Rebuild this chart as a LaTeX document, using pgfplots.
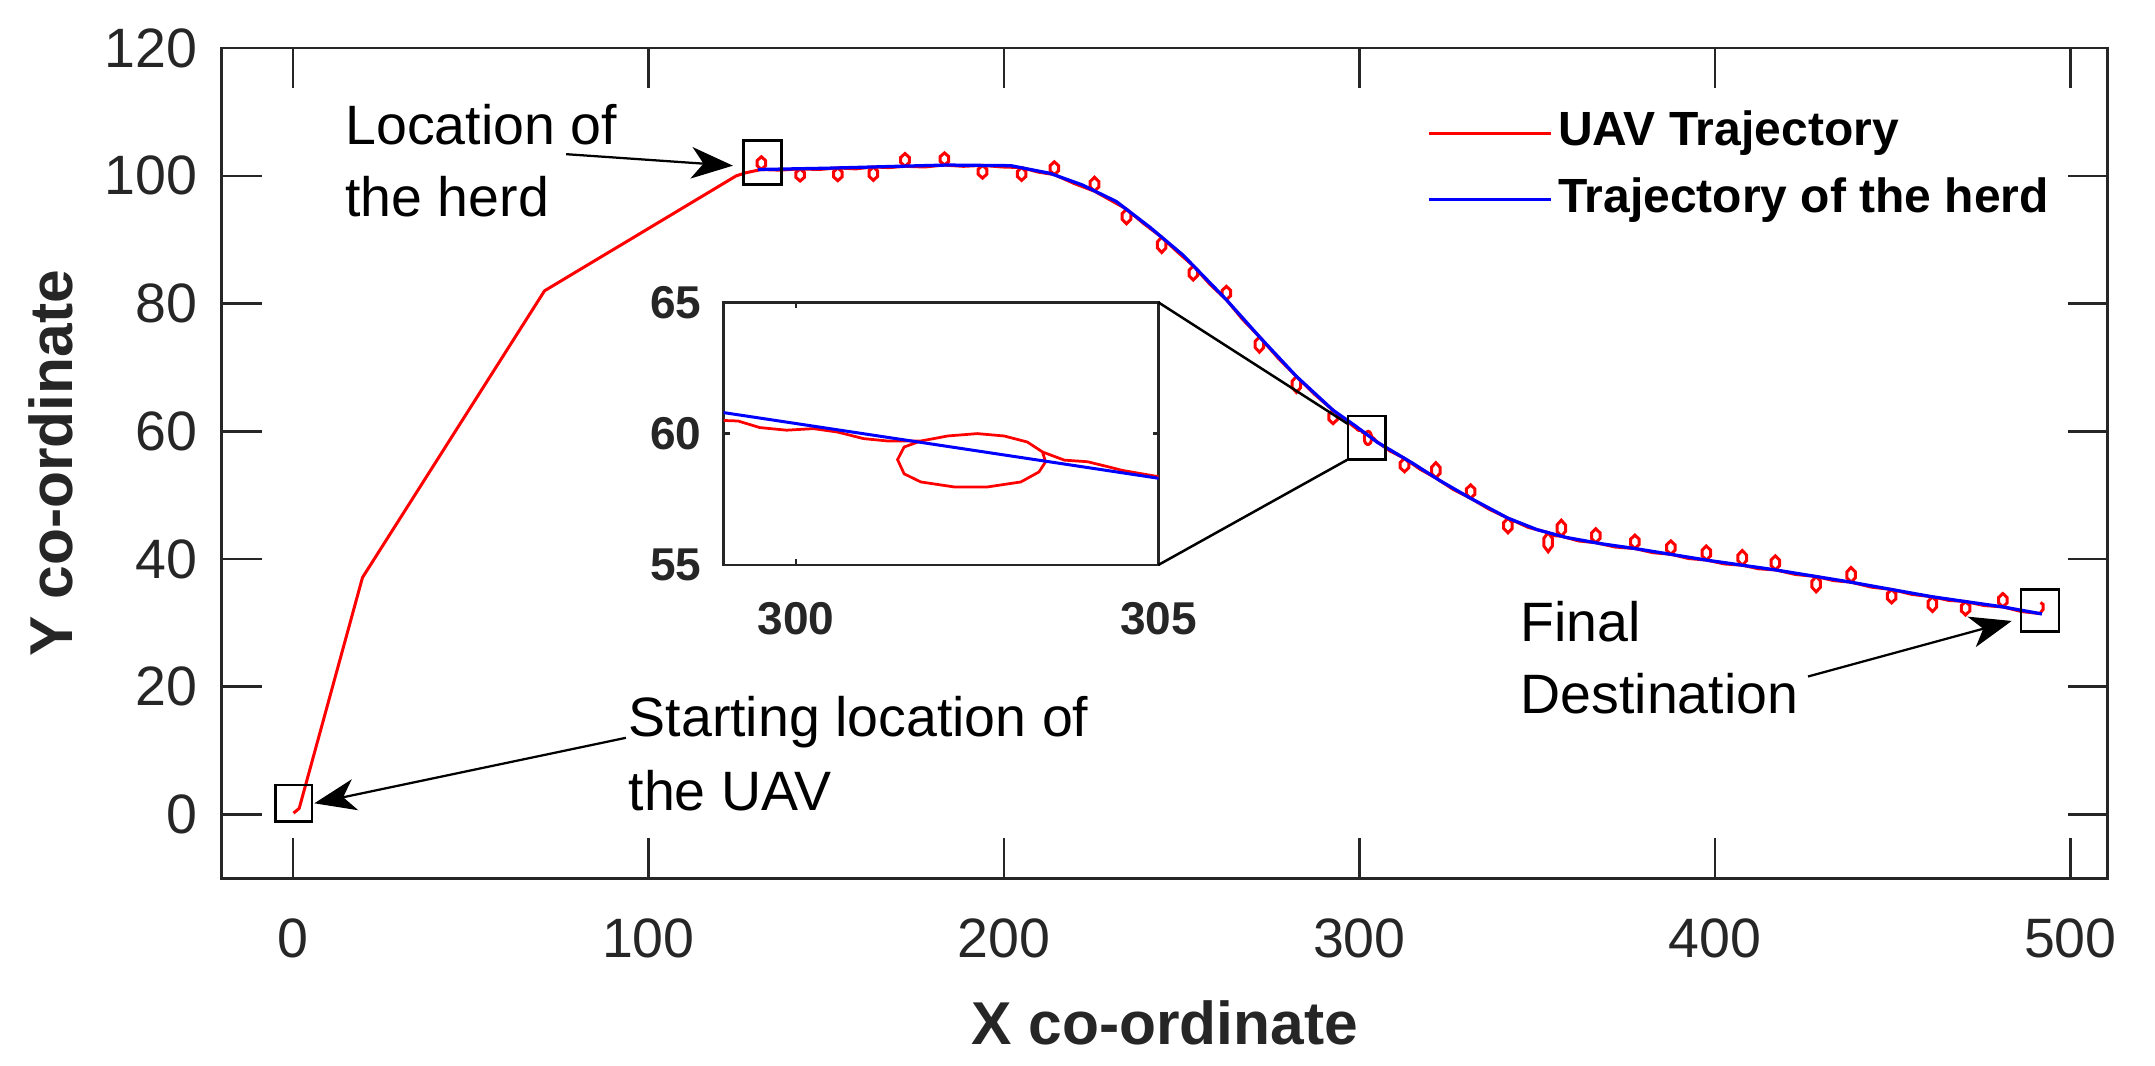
\documentclass[border=0pt]{standalone}
\usepackage{fontspec}
\setmainfont{Liberation Sans}
\usepackage{pgfplots}
\pgfplotsset{compat=1.18}
\usepackage{pgfplotstable}
\usetikzlibrary{arrows.meta}

\definecolor{axgray}{gray}{0.15}

% UAV path (red), with the small loops it makes around the herd
\pgfplotstableread{
x y
0.2 0.2
1.8 0.95
19.6 37.1
70.8 82.0
124.7 100.0
127.5 100.5
131.8 101.0
133.0 101.6
133.0 102.4
131.8 103.0
130.6 102.4
130.6 101.6
131.8 101.0
137.0 100.9
142.7 101.1
143.9 100.53
143.9 99.77
142.7 99.2
141.5 99.77
141.5 100.53
142.7 101.1
148.0 101.0
153.3 101.25
154.5 100.65
154.5 99.85
153.3 99.25
152.1 99.85
152.1 100.65
153.3 101.25
158.3 101.1
163.3 101.4
164.5 100.77
164.5 99.93
163.3 99.3
162.1 99.93
162.1 100.77
163.3 101.4
167.7 101.3
172.2 101.5
173.4 102.1
173.4 102.9
172.2 103.5
171.0 102.9
171.0 102.1
172.2 101.5
177.7 101.4
183.3 101.7
184.5 102.27
184.5 103.03
183.3 103.6
182.1 103.03
182.1 102.27
183.3 101.7
188.6 101.5
194.0 101.65
195.2 101.05
195.2 100.25
194.0 99.65
192.8 100.25
192.8 101.05
194.0 101.65
199.5 101.4
205.0 101.3
206.2 100.7
206.2 99.9
205.0 99.3
203.8 99.9
203.8 100.7
205.0 101.3
209.6 100.6
214.2 100.2
215.4 100.8
215.4 101.6
214.2 102.2
213.0 101.6
213.0 100.8
214.2 100.2
219.8 98.8
225.5 97.6
226.7 98.26
226.7 99.14
225.5 99.8
224.3 99.14
224.3 98.26
225.5 97.6
230.0 96.2
234.5 94.8
235.7 94.11
235.7 93.19
234.5 92.5
233.3 93.19
233.3 94.11
234.5 94.8
239.4 92.5
244.4 90.4
245.6 89.68
245.6 88.72
244.4 88.0
243.2 88.72
243.2 89.68
244.4 90.4
248.8 88.1
253.3 85.9
254.5 85.24
254.5 84.36
253.3 83.7
252.1 84.36
252.1 85.24
253.3 85.9
258.0 83.0
262.6 80.6
263.8 81.23
263.8 82.07
262.6 82.7
261.4 82.07
261.4 81.23
262.6 80.6
267.2 77.5
271.9 74.8
273.1 74.08
273.1 73.12
271.9 72.4
270.7 73.12
270.7 74.08
271.9 74.8
277.1 71.5
282.3 68.6
283.5 67.85
283.5 66.85
282.3 66.1
281.1 66.85
281.1 67.85
282.3 68.6
287.4 65.8
292.6 63.3
293.8 62.67
293.8 61.83
292.6 61.2
291.4 61.83
291.4 62.67
292.6 63.3
296.0 61.8
299.0 60.5
299.2 60.48
299.5 60.23
299.87 60.13
300.24 60.19
300.57 60.06
300.93 59.81
301.26 59.72
301.72 59.72
301.9 59.81
302.09 59.91
302.5 60.0
302.87 59.91
303.19 59.68
303.4 59.3
303.44 58.92
303.35 58.54
303.1 58.16
302.64 57.97
302.18 57.97
301.72 58.16
301.49 58.47
301.4 59.01
301.49 59.49
301.72 59.72
301.9 59.81
302.09 59.91
302.5 60.0
302.87 59.91
303.19 59.68
303.4 59.3
303.7 58.99
304.02 58.93
304.3 58.74
304.5 58.6
305.0 58.36
308.5 56.95
312.7 55.76
313.9 55.13
313.9 54.29
312.7 53.66
311.5 54.29
311.5 55.13
312.7 55.76
317.1 54.05
321.5 52.69
322.7 53.41
322.7 54.37
321.5 55.09
320.3 54.37
320.3 53.41
321.5 52.69
326.4 50.9
331.3 49.51
332.5 50.14
332.5 50.98
331.3 51.61
330.1 50.98
330.1 50.14
331.3 49.51
336.5 47.8
341.8 46.4
343.0 45.71
343.0 44.79
341.8 44.1
340.6 44.79
340.6 45.71
341.8 46.4
347.5 44.95
353.1 44.14
354.3 43.24
354.3 42.04
353.1 41.14
351.9 42.04
351.9 43.24
353.1 44.14
355.0 43.65
356.8 43.58
358.0 44.33
358.0 45.33
356.8 46.08
355.6 45.33
355.6 44.33
356.8 43.58
361.7 42.83
366.5 42.55
367.7 43.21
367.7 44.09
366.5 44.75
365.3 44.09
365.3 43.21
366.5 42.55
372.0 41.88
377.5 41.64
378.7 42.27
378.7 43.11
377.5 43.74
376.3 43.11
376.3 42.27
377.5 41.64
382.5 41.0
387.6 40.74
388.8 41.37
388.8 42.21
387.6 42.84
386.4 42.21
386.4 41.37
387.6 40.74
392.6 40.08
397.6 39.84
398.8 40.5
398.8 41.38
397.6 42.04
396.4 41.38
396.4 40.5
397.6 39.84
402.7 39.23
407.7 39.03
408.9 39.72
408.9 40.64
407.7 41.33
406.5 40.64
406.5 39.72
407.7 39.03
412.3 38.47
417.0 38.3
418.2 38.96
418.2 39.84
417.0 40.5
415.8 39.84
415.8 38.96
417.0 38.3
422.7 37.58
428.5 37.26
429.7 36.54
429.7 35.58
428.5 34.86
427.3 35.58
427.3 36.54
428.5 37.26
433.4 36.62
438.3 36.37
439.5 37.06
439.5 37.98
438.3 38.67
437.1 37.98
437.1 37.06
438.3 36.37
444.0 35.6
449.7 35.23
450.9 34.6
450.9 33.76
449.7 33.13
448.5 33.76
448.5 34.6
449.7 35.23
455.4 34.46
461.2 34.08
462.4 33.39
462.4 32.47
461.2 31.78
460.0 32.47
460.0 33.39
461.2 34.08
465.8 33.52
470.5 33.34
471.7 32.71
471.7 31.87
470.5 31.24
469.3 31.87
469.3 32.71
470.5 33.34
475.7 32.72
481.0 32.5
482.2 33.13
482.2 33.97
481.0 34.6
479.8 33.97
479.8 33.13
481.0 32.5
486.2 31.78
491.4 31.46
492.3 32.1
492.3 32.9
491.6 33.2
}\uavdata

% herd path (blue)
\pgfplotstableread{
x y
130.8 101.0
150 101.2
170 101.5
184 101.7
202 101.6
213 100.4
222 98.6
231.6 96.0
241 92.0
250.4 87.6
262.6 80.6
271.9 74.8
282.3 68.6
292.6 63.3
299 60.8
305 58.3
315 55.0
322.6 52.3
331 49.6
341.8 46.4
350 44.6
358 43.4
368 42.4
378 41.6
398 39.8
417 38.3
438 36.4
461 34.1
481 32.5
492 31.4
}\herddata

\begin{document}
\begin{tikzpicture}[
  annot/.style={font=\fontsize{11.1}{13}\selectfont, inner sep=0pt, anchor=base west},
  arr/.style={-{Stealth[length=8.3pt,width=6.3pt,inset=2.4pt]}, line width=0.45pt},
  zbox/.style={line width=0.55pt}]
\path[use as bounding box] (-44.34pt,-37.54pt) rectangle (386.66pt,175.66pt);

\begin{axis}[
  name=main, at={(0,0)}, anchor=south west,
  scale only axis, width=377.2pt, height=166.02pt,
  xmin=-20, xmax=510.5, ymin=-10, ymax=120,
  xtick={0,100,...,500}, ytick={0,20,...,120},
  tick align=inside, major tick length=8pt,
  axis line style={axgray, line width=0.5pt},
  tick style={axgray, line width=0.5pt},
  /pgf/number format/assume math mode=true,
  tick label style={font=\fontsize{11.1}{13}\selectfont, text=axgray},
  xticklabel style={yshift=-4.6pt},
  yticklabel style={xshift=-1.3pt},
  xlabel={X co-ordinate}, ylabel={Y co-ordinate},
  label style={font=\fontsize{12.1}{14}\selectfont\bfseries, text=axgray},
  xlabel style={at={(axis description cs:0.5,-0.1743)}, anchor=center},
  ylabel style={at={(axis description cs:-0.0907,0.5)}, anchor=center},
  legend cell align=left,
  legend style={draw=none, fill=none, inner sep=0pt, outer sep=0pt,
    at={(rel axis cs:0.639,0.932)}, anchor=north west, row sep=1.9pt,
    font=\fontsize{9.6}{11}\selectfont\bfseries,
    nodes={inner sep=1.2pt, text height=7pt, text depth=2pt}},
  legend image code/.code={\draw[#1] (0pt,0pt) -- (24.4pt,0pt);},
]
\addplot[red, line width=0.6pt] table[x=x,y=y] {\uavdata};
\addplot[blue, line width=0.65pt] table[x=x,y=y] {\herddata};
\legend{UAV Trajectory, Trajectory of the herd}

% marker boxes
\draw[zbox] (axis cs:-4.9,-1.15) rectangle (axis cs:5.4,4.6);
\draw[zbox] (axis cs:126.8,98.6) rectangle (axis cs:137.5,105.5);
\draw[zbox] (axis cs:296.8,55.6) rectangle (axis cs:307.3,62.4);
\draw[zbox] (axis cs:486.1,28.6) rectangle (axis cs:496.8,35.2);
\coordinate (ztop) at (axis cs:296.8,61.14);
\coordinate (zbot) at (axis cs:296.8,55.6);

% annotations
\draw[arr] (axis cs:76.9,103.4) -- (axis cs:123.8,101.6);
\draw[arr] (axis cs:93.7,12.0) -- (axis cs:6.05,1.74);
\draw[arr] (axis cs:426.2,21.6) -- (axis cs:483.5,30.3);
\node[annot] at (axis cs:14.5,104.84) {Location of};
\node[annot] at (axis cs:14.5,93.6) {the herd};
\node[annot] at (axis cs:94.2,12.17) {Starting location of};
\node[annot] at (axis cs:94.2,0.69) {the UAV};
\node[annot] at (axis cs:345.1,27.05) {Final};
\node[annot] at (axis cs:345.1,15.83) {Destination};
\end{axis}

\begin{axis}[
  name=inset, at={(100.32pt,62.66pt)}, anchor=south west,
  scale only axis, width=87pt, height=52.54pt,
  xmin=299, xmax=305, ymin=55, ymax=65,
  xtick={300,305}, ytick={55,60,65},
  tick align=inside, major tick length=1.2pt,
  axis background/.style={fill=white},
  axis line style={axgray, line width=0.5pt},
  tick style={axgray, line width=0.5pt},
  /pgf/number format/assume math mode=true,
  tick label style={font=\fontsize{9.2}{11}\selectfont\bfseries, text=axgray},
  xticklabel style={yshift=-3.9pt},
  yticklabel style={xshift=-0.9pt},
]
\addplot[red, line width=0.55pt] table[x=x,y=y] {\uavdata};
\addplot[blue, line width=0.6pt] table[x=x,y=y] {\herddata};
\end{axis}

\draw[line width=0.5pt] (inset.north east) -- (ztop);
\draw[line width=0.5pt] (inset.south east) -- (zbot);
\end{tikzpicture}
\end{document}
